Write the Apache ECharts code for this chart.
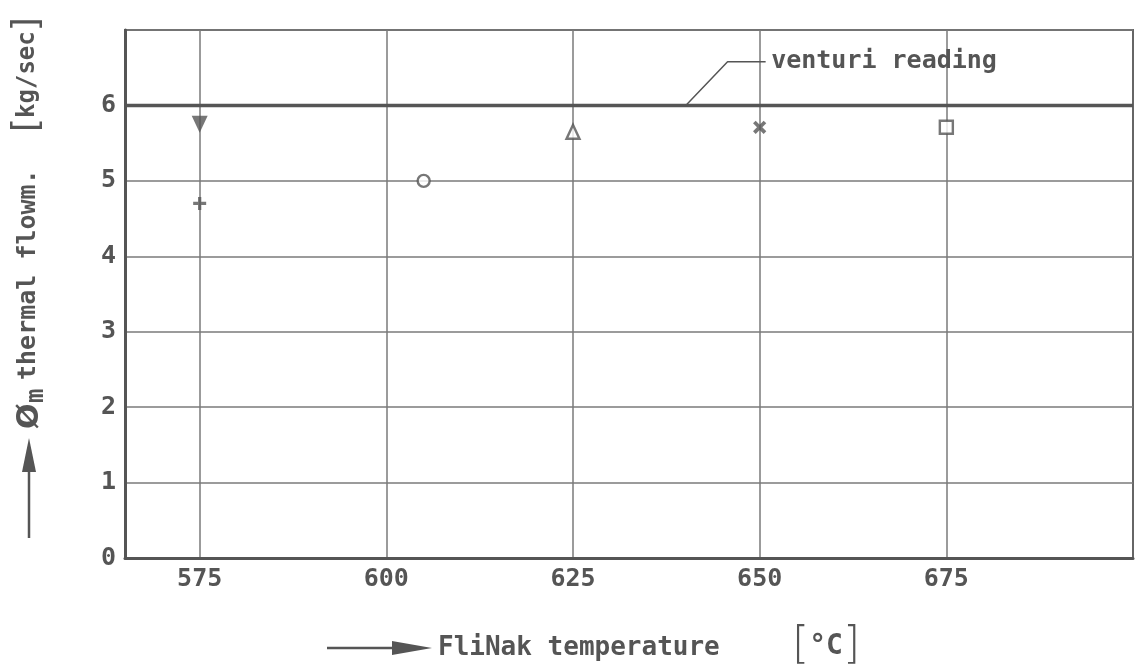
<!DOCTYPE html>
<html>
<head>
<meta charset="utf-8">
<script src="https://cdn.jsdelivr.net/npm/echarts@6/dist/echarts.min.js"></script>
<style>html,body{margin:0;padding:0;background:#fff;}#chart{width:1136px;height:672px;}</style>
</head>
<body>
<div id="chart"></div>
<script>
// ---- data ----
const xTicks = [575, 600, 625, 650, 675];
const xMin = 565, xMax = 700;
const yMin = 0, yMax = 7;
const venturiValue = 6;
const downTriangle = [[575, 5.75]];
const plusPoints = [[575, 4.7]];
const circlePoints = [[605, 5.0]];
const upTriangle = [[625, 5.65]];
const crossPoints = [[650, 5.71]];
const squarePoints = [[675, 5.71]];
const leaderLine = [[640.1, 6], [645.7, 6.58], [650.8, 6.58]];
const venturiLabel = 'venturi reading';
const xTitle = 'FliNak temperature';
const xUnit = '°C';
const yTitle = 'thermal flowm.';
const yUnit = 'kg/sec';

const INK = '#555555';
const GRID = '#7a7a7a';
const FONT = 'DejaVu Sans Mono';
const plusPath = 'path://M4.5,0H7.5V4.5H12V7.5H7.5V12H4.5V7.5H0V4.5H4.5Z';

const chart = echarts.init(document.getElementById('chart'), null, {renderer: 'canvas'});

function markerSeries(name, data, symbol, size, filled, rotate) {
  return {
    name: name, type: 'scatter', data: data, symbol: symbol, symbolSize: size,
    symbolRotate: rotate || 0, z: 5,
    itemStyle: filled ? {color: INK} : {color: '#fff', borderColor: INK, borderWidth: 2.4}
  };
}

const labelPoint = leaderLine[leaderLine.length - 1];

const option = {
  backgroundColor: '#fff',
  animation: false,
  grid: {left: 125, right: 3, top: 30, bottom: 114, show: true, borderColor: '#666', borderWidth: 2},
  xAxis: {
    type: 'value', min: xMin, max: xMax,
    axisLine: {show: true, onZero: false, lineStyle: {color: '#555', width: 3}},
    axisTick: {show: false, customValues: xTicks},
    axisLabel: {customValues: xTicks, color: INK, fontFamily: FONT, fontWeight: 'bold', fontSize: 25, margin: 9},
    splitLine: {show: true, lineStyle: {color: GRID, width: 1.5}}
  },
  yAxis: {
    type: 'value', min: yMin, max: yMax, interval: 1,
    axisLine: {show: true, onZero: false, lineStyle: {color: '#555', width: 3}},
    axisTick: {show: false},
    axisLabel: {color: INK, fontFamily: FONT, fontWeight: 'bold', fontSize: 25, margin: 9,
      formatter: v => (v === yMax ? '' : String(v))},
    splitLine: {show: true, lineStyle: {color: GRID, width: 1.5}}
  },
  series: [
    {
      name: 'venturi', type: 'line', data: [[xMin, venturiValue], [xMax, venturiValue]],
      symbol: 'none', lineStyle: {color: '#555', width: 3.5}, z: 4
    },
    {
      name: 'leader', type: 'line', symbol: 'none', z: 4, data: leaderLine,
      lineStyle: {color: '#555', width: 1.5}
    },
    {
      name: 'leaderLabel', type: 'scatter', data: [labelPoint], symbolSize: 1, z: 4,
      itemStyle: {color: 'rgba(255,255,255,0)'},
      label: {show: true, position: 'right', distance: 5, formatter: venturiLabel, opacity: 1,
        color: INK, fontFamily: FONT, fontWeight: 'bold', fontSize: 25}
    },
    markerSeries('down', downTriangle, 'triangle', [16, 17], true, 180),
    markerSeries('plus', plusPoints, plusPath, [13, 13], true, 0),
    markerSeries('circle', circlePoints, 'circle', 12, false),
    markerSeries('up', upTriangle, 'triangle', [13, 14], false),
    markerSeries('cross', crossPoints, plusPath, [15, 15], true, 45),
    markerSeries('square', squarePoints, 'rect', [13, 13], false)
  ],
  graphic: [
    // x axis title arrow
    {type: 'line', shape: {x1: 327, y1: 648, x2: 400, y2: 648}, style: {stroke: '#555', lineWidth: 2.5}},
    {type: 'polygon', shape: {points: [[392, 641], [432, 648], [392, 655]]}, style: {fill: '#555'}},
    {type: 'text', x: 438, y: 648, style: {text: xTitle, fill: INK, font: 'bold 26px "' + FONT + '"', verticalAlign: 'middle', align: 'left'}},
    {type: 'text', x: 792, y: 647, style: {
      text: '{b|[}{u|' + xUnit + '}{b|]}', fill: INK, verticalAlign: 'middle', align: 'left',
      rich: {
        b: {fontSize: 44, fontFamily: 'DejaVu Sans', fontWeight: 'lighter', fill: INK},
        u: {fontSize: 28, fontFamily: FONT, fontWeight: 'bold', fill: INK}
      }
    }},
    // y axis title arrow
    {type: 'line', shape: {x1: 29, y1: 538, x2: 29, y2: 465}, style: {stroke: '#555', lineWidth: 2.5}},
    {type: 'polygon', shape: {points: [[22, 472], [29, 438], [36, 472]]}, style: {fill: '#555'}},
    {type: 'text', x: 30, y: 429, rotation: Math.PI / 2, style: {text: 'Ø', fill: INK, font: 'bold 30px "DejaVu Sans"', verticalAlign: 'middle', align: 'left'}},
    {type: 'text', x: 37, y: 403, rotation: Math.PI / 2, style: {text: 'm', fill: INK, font: 'bold 24px "' + FONT + '"', verticalAlign: 'middle', align: 'left'}},
    {type: 'text', x: 28, y: 380, rotation: Math.PI / 2, style: {text: yTitle, fill: INK, font: 'bold 25px "' + FONT + '"', verticalAlign: 'middle', align: 'left'}},
    {type: 'text', x: 28, y: 132, rotation: Math.PI / 2, style: {
      text: '{b|[}{u|' + yUnit + '}{b|]}', fill: INK, verticalAlign: 'middle', align: 'left',
      rich: {
        b: {fontSize: 36, fontFamily: 'DejaVu Sans', fill: INK},
        u: {fontSize: 24, fontFamily: FONT, fontWeight: 'bold', fill: INK}
      }
    }}
  ]
};
chart.setOption(option);
</script>
</body>
</html>
